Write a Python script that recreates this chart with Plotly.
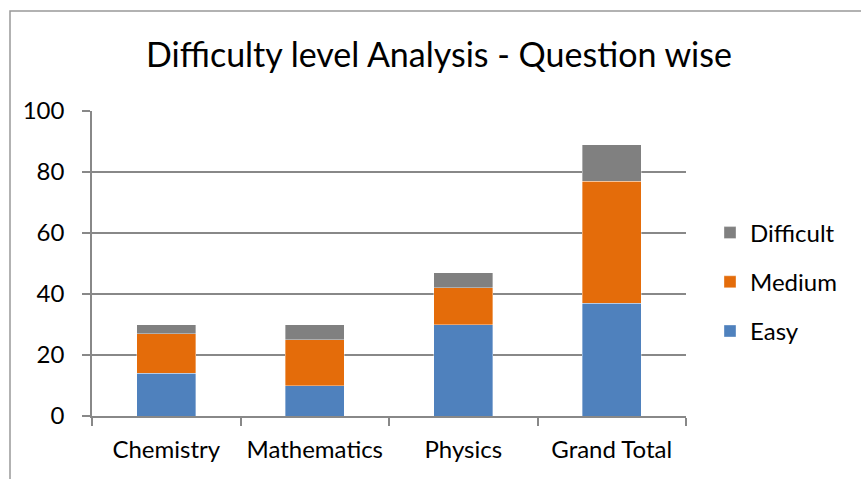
import plotly.graph_objects as go

categories = ["Chemistry", "Mathematics", "Physics", "Grand Total"]
easy = [14, 10, 30, 37]
medium = [13, 15, 12, 40]
difficult = [3, 5, 5, 12]
y_ticks = [0, 20, 40, 60, 80, 100]

FONT = "Lato"
GRID = "#888888"

W, H = 861, 479
L, R, T, B = 92, 175, 111, 63
pw, ph = W - L - R, H - T - B

def px_x(p):
    return (p - L) / pw

def px_y(p):
    return (H - B - p) / ph

fig = go.Figure()
for name, vals, col, rank in [("Easy", easy, "#4F81BD", 3),
                              ("Medium", medium, "#E46C0A", 2),
                              ("Difficult", difficult, "#808080", 1)]:
    fig.add_trace(go.Bar(
        x=categories, y=vals, name=name, legendgroup=name, legendrank=rank,
        marker=dict(color=col, line=dict(color="rgba(255,255,255,0.6)", width=0.6)),
    ))

fig.update_layout(
    width=W, height=H,
    barmode="stack", bargap=0.6,
    margin=dict(l=L, r=R, t=T, b=B),
    paper_bgcolor="white", plot_bgcolor="white",
    font=dict(family=FONT, color="#000000", size=24),
    title=dict(text="Difficulty level Analysis - Question wise",
               font=dict(family=FONT, size=34, color="#000000"),
               xref="paper", x=px_x(439), xanchor="center",
               yref="container", y=1 - 55 / H, yanchor="middle"),
    legend=dict(x=px_x(710), xanchor="left", y=px_y(282), yanchor="middle",
                traceorder="grouped", tracegroupgap=15,
                font=dict(family=FONT, size=24, color="#000000"),
                itemwidth=30, bgcolor="rgba(0,0,0,0)"),
    showlegend=True,
    xaxis=dict(showline=True, linecolor=GRID, linewidth=1.5,
               ticks="outside", ticklen=8, tickcolor=GRID, tickwidth=1.5,
               tickson="boundaries", showgrid=False,
               ticklabelstandoff=11,
               tickfont=dict(family=FONT, size=24, color="#000000")),
    yaxis=dict(range=[0, 100], tickvals=y_ticks, showgrid=True,
               gridcolor=GRID, gridwidth=1.5,
               showline=True, linecolor=GRID, linewidth=1.5,
               ticks="outside", ticklen=8, tickcolor=GRID, tickwidth=1.5,
               zeroline=False, ticklabelstandoff=13,
               tickfont=dict(family=FONT, size=24, color="#000000")),
    shapes=[dict(type="rect", xref="paper", yref="paper",
                 x0=px_x(10), x1=px_x(W + 20), y0=px_y(H + 20), y1=px_y(11),
                 line=dict(color="#999999", width=1.5), fillcolor="rgba(0,0,0,0)",
                 layer="below")],
)

fig.write_html("out.html", config={"displayModeBar": False},
               post_script="document.body.style.margin='0';document.body.style.overflow='hidden';")
